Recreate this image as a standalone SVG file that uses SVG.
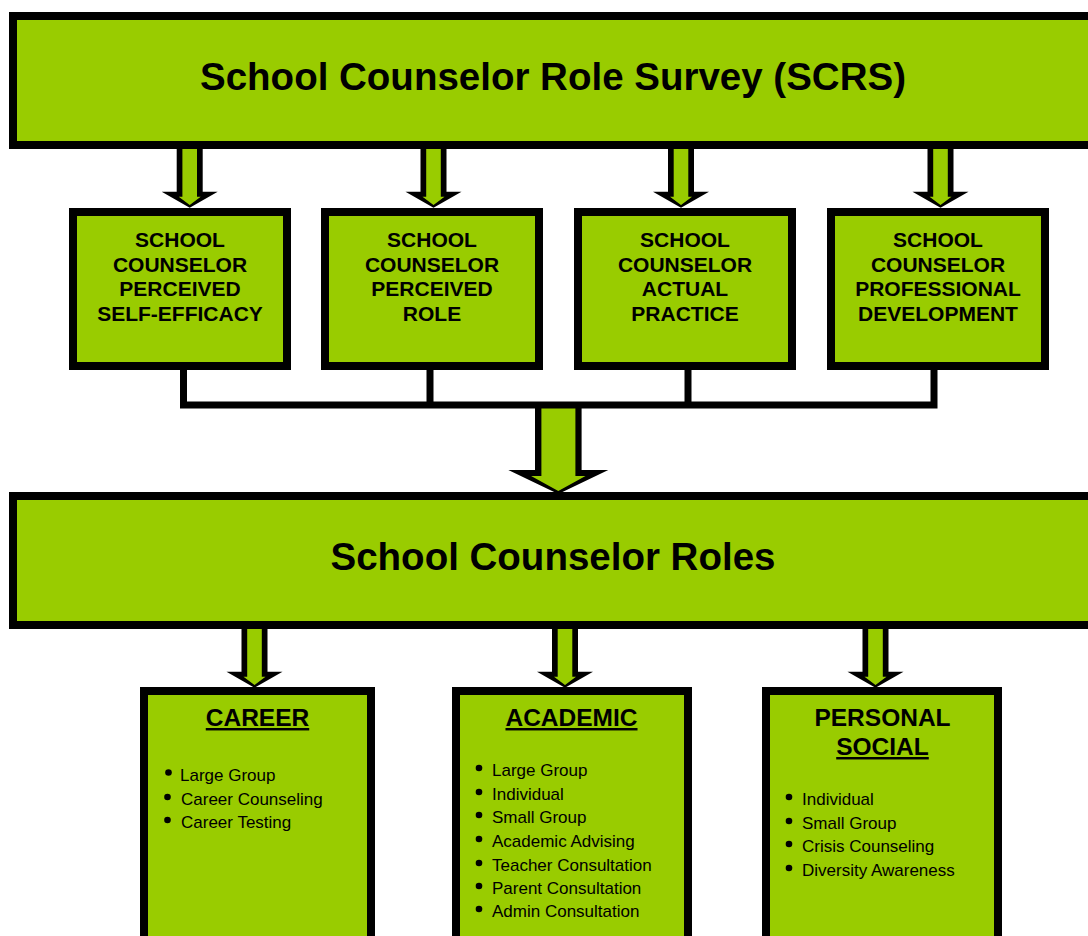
<svg xmlns="http://www.w3.org/2000/svg" width="1088" height="936" viewBox="0 0 1088 936">
<style>
.box{fill:#99CC00;stroke:#000;stroke-width:8}
.ln{fill:none;stroke:#000;stroke-width:7;stroke-linejoin:miter}
.title{font-family:"Liberation Sans",Arial,sans-serif;font-weight:bold;font-size:38.5px;text-anchor:middle;fill:#000}
.lbl{font-family:"Liberation Sans",Arial,sans-serif;font-weight:bold;font-size:21px;text-anchor:middle;fill:#000}
.hd{font-family:"Liberation Sans",Arial,sans-serif;font-weight:bold;font-size:24.5px;text-anchor:middle;fill:#000}
.it{font-family:"Liberation Sans",Arial,sans-serif;font-size:17px;fill:#000}
</style>
<defs>
<g id="arrow">
<polygon fill="#000" points="-13,140 13,140 13,191.7 28,191.7 0,207.7 -28,191.7 -13,191.7"/>
<polygon fill="#99CC00" points="-7.3,140 7.3,140 7.3,196.7 11,196.7 0,205 -11,196.7 -7.3,196.7"/>
</g>
</defs>
<rect width="1088" height="936" fill="#fff"/>
<g id="connectors">
<use href="#arrow" transform="translate(189.7,0)"/>
<use href="#arrow" transform="translate(433.5,0)"/>
<use href="#arrow" transform="translate(681,0)"/>
<use href="#arrow" transform="translate(940.5,0)"/>
<polygon fill="#000" points="535,405 581.6,405 581.6,470 608.3,470 558.3,494 508.3,470 535,470"/>
<polygon fill="#99CC00" points="541.4,405 575.4,405 575.4,476 585.5,476 558.3,491 531.1,476 541.4,476"/>
<path class="ln" d="M183.5,366 V405 H934 V366"/>
<path class="ln" d="M430,366 V405"/>
<path class="ln" d="M688,366 V405"/>
<use href="#arrow" transform="translate(254.5,480)"/>
<use href="#arrow" transform="translate(565,480)"/>
<use href="#arrow" transform="translate(875.5,480)"/>
</g>
<g id="scrs">
<rect class="box" x="13" y="16" width="1100" height="129"/>
<text class="title" x="553" y="90">School Counselor Role Survey (SCRS)</text>
</g>
<g id="self-efficacy">
<rect class="box" x="73" y="212" width="214" height="154"/>
<text class="lbl" x="180"><tspan x="180" y="247">SCHOOL</tspan><tspan x="180" y="271.5">COUNSELOR</tspan><tspan x="180" y="296">PERCEIVED</tspan><tspan x="180" y="320.5">SELF-EFFICACY</tspan></text>
</g>
<g id="perceived-role">
<rect class="box" x="325" y="212" width="214" height="154"/>
<text class="lbl" x="432"><tspan x="432" y="247">SCHOOL</tspan><tspan x="432" y="271.5">COUNSELOR</tspan><tspan x="432" y="296">PERCEIVED</tspan><tspan x="432" y="320.5">ROLE</tspan></text>
</g>
<g id="actual-practice">
<rect class="box" x="578" y="212" width="214" height="154"/>
<text class="lbl" x="685"><tspan x="685" y="247">SCHOOL</tspan><tspan x="685" y="271.5">COUNSELOR</tspan><tspan x="685" y="296">ACTUAL</tspan><tspan x="685" y="320.5">PRACTICE</tspan></text>
</g>
<g id="professional-development">
<rect class="box" x="831" y="212" width="214" height="154"/>
<text class="lbl" x="938"><tspan x="938" y="247">SCHOOL</tspan><tspan x="938" y="271.5">COUNSELOR</tspan><tspan x="938" y="296">PROFESSIONAL</tspan><tspan x="938" y="320.5">DEVELOPMENT</tspan></text>
</g>
<g id="roles">
<rect class="box" x="13" y="496" width="1100" height="129"/>
<text class="title" x="553" y="570">School Counselor Roles</text>
</g>
<g id="career">
<rect class="box" x="144" y="691" width="227" height="280"/>
<text class="hd" x="257.5" y="726" text-decoration="underline">CAREER</text>
<g fill="#000"><circle cx="168.5" cy="772.5" r="3.3"/><circle cx="167.5" cy="797" r="3.3"/><circle cx="167.5" cy="820" r="3.3"/></g>
<text class="it"><tspan x="180" y="781">Large Group</tspan><tspan x="181" y="805">Career Counseling</tspan><tspan x="181" y="828">Career Testing</tspan></text>
</g>
<g id="academic">
<rect class="box" x="456" y="691" width="232" height="280"/>
<text class="hd" x="571.5" y="726" text-decoration="underline">ACADEMIC</text>
<g fill="#000"><circle cx="479" cy="768" r="3.3"/><circle cx="479" cy="792" r="3.3"/><circle cx="479" cy="815" r="3.3"/><circle cx="479" cy="839" r="3.3"/><circle cx="479" cy="863" r="3.3"/><circle cx="479" cy="886" r="3.3"/><circle cx="479" cy="909" r="3.3"/></g>
<text class="it"><tspan x="492" y="776">Large Group</tspan><tspan x="492" y="800">Individual</tspan><tspan x="492" y="823">Small Group</tspan><tspan x="492" y="847">Academic Advising</tspan><tspan x="492" y="871">Teacher Consultation</tspan><tspan x="492" y="894">Parent Consultation</tspan><tspan x="492" y="917">Admin Consultation</tspan></text>
</g>
<g id="personal-social">
<rect class="box" x="766" y="691" width="232" height="280"/>
<text class="hd" x="882.5" y="726">PERSONAL</text>
<text class="hd" x="882.5" y="755" text-decoration="underline">SOCIAL</text>
<g fill="#000"><circle cx="789" cy="797" r="3.3"/><circle cx="789" cy="821" r="3.3"/><circle cx="789" cy="844" r="3.3"/><circle cx="789" cy="868" r="3.3"/></g>
<text class="it"><tspan x="802" y="805">Individual</tspan><tspan x="802" y="829">Small Group</tspan><tspan x="802" y="852">Crisis Counseling</tspan><tspan x="802" y="876">Diversity Awareness</tspan></text>
</g>
</svg>
